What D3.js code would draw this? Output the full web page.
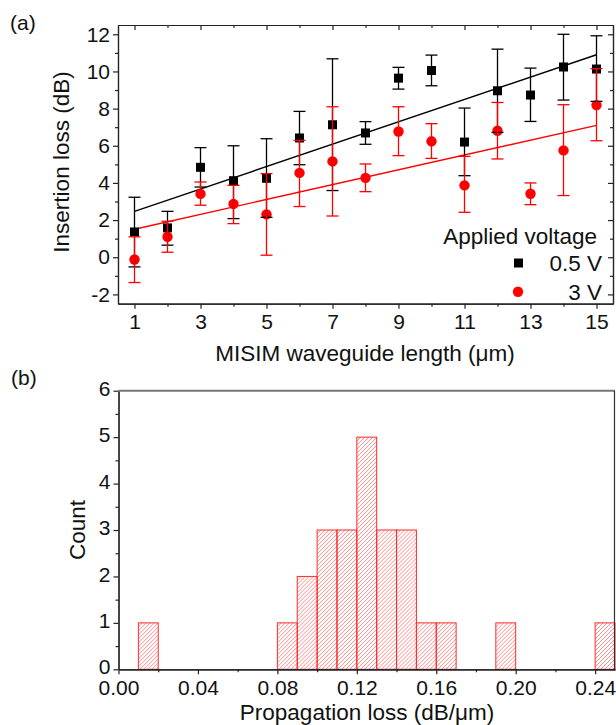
<!DOCTYPE html>
<html lang="en">
<head>
  <meta charset="UTF-8" />
  <title>Insertion and propagation loss</title>
  <script src="https://d3js.org/d3.v7.min.js"></script>
  <style>
    body { margin: 0; background: white; }
    svg { display: block; font-family: "Liberation Sans", Arial, sans-serif; }
    .axis text { font-size: 21px; fill: #111; font-family: "Liberation Sans", Arial, sans-serif; }
    .axis path, .axis line { stroke: #222; stroke-width: 1.2; }
    .title { font-size: 22.5px; fill: #111; }
  </style>
</head>
<body>
  <svg id="fig" width="616" height="725"></svg>
  <script>
    // (a) insertion loss vs waveguide length
    const lengths = [1, 2, 3, 4, 5, 6, 7, 8, 9, 10, 11, 12, 13, 14, 15];
    const loss05 = [1.36, 1.58, 4.84, 4.12, 4.25, 6.42, 7.13, 6.69, 9.64, 10.05, 6.2, 8.96, 8.73, 10.24, 10.13];
    const hi05 = [3.23, 2.47, 5.9, 6.0, 6.38, 7.85, 10.68, 7.3, 10.22, 10.88, 8.03, 11.2, 10.18, 12.0, 11.92];
    const lo05 = [-0.52, 0.65, 3.78, 2.08, 2.15, 4.98, 3.59, 6.08, 9.05, 9.23, 4.39, 6.72, 7.31, 8.46, 8.39];
    const loss3 = [-0.12, 1.1, 3.41, 2.87, 2.31, 4.54, 5.16, 4.27, 6.77, 6.24, 3.87, 6.81, 3.42, 5.75, 8.19];
    const hi3 = [1.1, 1.94, 4.05, 3.87, 4.5, 6.29, 8.1, 5.02, 8.1, 7.19, 5.43, 8.33, 4.0, 8.21, 10.15];
    const lo3 = [-1.36, 0.27, 2.8, 1.81, 0.11, 2.73, 2.22, 3.53, 5.47, 5.32, 2.42, 5.29, 2.83, 3.32, 6.27];
    const fitX = [1, 15];
    const fit05 = [2.47, 10.9];
    const fit3 = [1.51, 7.1];
    const yTicksA = [-2, 0, 2, 4, 6, 8, 10, 12];
    const xTicksA = [1, 3, 5, 7, 9, 11, 13, 15];

    // (b) histogram of propagation loss, bin width 0.01
    const binStart = [0.01, 0.08, 0.09, 0.10, 0.11, 0.12, 0.13, 0.14, 0.15, 0.16, 0.19, 0.24];
    const counts = [1, 1, 2, 3, 3, 5, 3, 3, 1, 1, 1, 1];
    const binWidth = 0.01;
    const xTicksB = [0, 0.04, 0.08, 0.12, 0.16, 0.20, 0.24];
    const yTicksB = [0, 1, 2, 3, 4, 5, 6];

    const svg = d3.select("#fig");
    const defs = svg.append("defs");

    const hyphen = d => String(d).replace("\u2212", "-");

    // ---------- panel (a) ----------
    const xA = d3.scaleLinear().domain([0.5, 15.5]).range([118, 613]);
    const yA = d3.scaleLinear().domain([-2.5, 12.5]).range([303.7, 25]);
    const gA = svg.append("g");

    const minorY = d3.range(-2, 13, 1).filter(v => v % 2 !== 0);
    const minorX = d3.range(2, 15, 2);

    // left axis
    gA.append("g").attr("class", "axis")
      .attr("transform", "translate(118,0)")
      .call(d3.axisLeft(yA).tickValues(yTicksA).tickSize(5).tickPadding(3).tickSizeOuter(0)
        .tickFormat(d => hyphen(d)));
    gA.append("g").attr("class", "axis")
      .attr("transform", "translate(118,0)")
      .call(d3.axisLeft(yA).tickValues(minorY).tickSize(3).tickFormat("").tickSizeOuter(0));
    // right axis, ticks inward
    gA.append("g").attr("class", "axis")
      .attr("transform", "translate(613,0)")
      .call(d3.axisRight(yA).tickValues(yTicksA).tickSize(-5).tickFormat("").tickSizeOuter(0));
    gA.append("g").attr("class", "axis")
      .attr("transform", "translate(613,0)")
      .call(d3.axisRight(yA).tickValues(minorY).tickSize(-3).tickFormat("").tickSizeOuter(0));
    // bottom axis
    gA.append("g").attr("class", "axis")
      .attr("transform", "translate(0,303.7)")
      .call(d3.axisBottom(xA).tickValues(xTicksA).tickSize(5).tickPadding(5).tickSizeOuter(0));
    gA.append("g").attr("class", "axis")
      .attr("transform", "translate(0,303.7)")
      .call(d3.axisBottom(xA).tickValues(minorX).tickSize(3).tickFormat("").tickSizeOuter(0));
    // top axis, ticks inward
    gA.append("g").attr("class", "axis")
      .attr("transform", "translate(0,25)")
      .call(d3.axisTop(xA).tickValues(xTicksA).tickSize(-5).tickFormat("").tickSizeOuter(0));
    gA.append("g").attr("class", "axis")
      .attr("transform", "translate(0,25)")
      .call(d3.axisTop(xA).tickValues(minorX).tickSize(-3).tickFormat("").tickSizeOuter(0));

    // fit lines
    const line = d3.line().x(d => xA(d[0])).y(d => yA(d[1]));
    gA.append("path").datum(fitX.map((x, i) => [x, fit05[i]]))
      .attr("d", line).attr("fill", "none").attr("stroke", "#000").attr("stroke-width", 1.4);
    gA.append("path").datum(fitX.map((x, i) => [x, fit3[i]]))
      .attr("d", line).attr("fill", "none").attr("stroke", "#ff0000").attr("stroke-width", 1.4);

    const ptsA = lengths.map((x, i) => ({ x, v: loss05[i], hi: hi05[i], lo: lo05[i] }));
    const ptsB = lengths.map((x, i) => ({ x, v: loss3[i], hi: hi3[i], lo: lo3[i] }));

    // markers
    gA.selectAll(".sq").data(ptsA).enter().append("rect")
      .attr("x", d => xA(d.x) - 4.5).attr("y", d => yA(d.v) - 4.5)
      .attr("width", 9).attr("height", 9).attr("fill", "#000");
    gA.selectAll(".dot").data(ptsB).enter().append("circle")
      .attr("cx", d => xA(d.x)).attr("cy", d => yA(d.v))
      .attr("r", 5.2).attr("fill", "#ff0000");

    // error bars
    function errorBars(pts, color) {
      const g = gA.append("g").attr("stroke", color).attr("stroke-width", 1.3);
      pts.forEach(d => {
        const cx = xA(d.x);
        g.append("line").attr("x1", cx).attr("x2", cx).attr("y1", yA(d.lo)).attr("y2", yA(d.hi));
        g.append("line").attr("x1", cx - 6).attr("x2", cx + 6).attr("y1", yA(d.hi)).attr("y2", yA(d.hi));
        g.append("line").attr("x1", cx - 6).attr("x2", cx + 6).attr("y1", yA(d.lo)).attr("y2", yA(d.lo));
      });
    }
    errorBars(ptsA, "#000");
    errorBars(ptsB, "#ff0000");

    // legend
    gA.append("text").attr("class", "title").attr("x", 597).attr("y", 244)
      .attr("text-anchor", "end").text("Applied voltage");
    gA.append("rect").attr("x", 514).attr("y", 258.5).attr("width", 9).attr("height", 9).attr("fill", "#000");
    gA.append("text").attr("class", "title").attr("x", 602).attr("y", 271)
      .attr("text-anchor", "end").text("0.5 V");
    gA.append("circle").attr("cx", 518).attr("cy", 291.7).attr("r", 5.2).attr("fill", "#ff0000");
    gA.append("text").attr("class", "title").attr("x", 602).attr("y", 300)
      .attr("text-anchor", "end").text("3 V");

    // titles
    svg.append("text").attr("class", "title").attr("x", 365).attr("y", 361)
      .attr("text-anchor", "middle").text("MISIM waveguide length (\u03bcm)");
    svg.append("text").attr("class", "title")
      .attr("transform", "translate(69,162) rotate(-90)")
      .attr("text-anchor", "middle").text("Insertion loss (dB)");
    svg.append("text").attr("class", "title").attr("x", 10).attr("y", 30)
      .style("font-size", "21px").text("(a)");

    // ---------- panel (b) ----------
    const xB = d3.scaleLinear().domain([0, 0.25]).range([118.5, 615]);
    const yB = d3.scaleLinear().domain([0, 6]).range([669.3, 390.7]);
    const gB = svg.append("g");

    // hatched bars: light red diagonals clipped to each bar, then the outline
    binStart.forEach((d, i) => {
      const bx0 = xB(d), bx1 = xB(d + binWidth);
      const by0 = yB(counts[i]), by1 = yB(0);
      const h = by1 - by0;
      defs.append("clipPath").attr("id", "binclip" + i)
        .append("rect").attr("x", bx0).attr("y", by0).attr("width", bx1 - bx0).attr("height", h);
      const hg = gB.append("g").attr("clip-path", `url(#binclip${i})`);
      for (let k = bx0 - h; k < bx1; k += 4) {
        hg.append("line")
          .attr("x1", k).attr("y1", by1).attr("x2", k + h).attr("y2", by0)
          .attr("stroke", "#ff7f7f").attr("stroke-width", 0.9);
      }
    });
    gB.selectAll("rect.bin").data(binStart).enter().append("rect")
      .attr("class", "bin")
      .attr("x", d => xB(d))
      .attr("y", (d, i) => yB(counts[i]))
      .attr("width", d => xB(d + binWidth) - xB(d))
      .attr("height", (d, i) => yB(0) - yB(counts[i]))
      .attr("fill", "none")
      .attr("stroke", "#ff2a2a")
      .attr("stroke-width", 1);

    const minorYB = d3.range(0.5, 6, 1);
    const minorXB = [0.02, 0.06, 0.10, 0.14, 0.18, 0.22];

    gB.append("g").attr("class", "axis")
      .attr("transform", "translate(118.5,0)")
      .call(d3.axisLeft(yB).tickValues(yTicksB).tickSize(5).tickPadding(3).tickSizeOuter(0)
        .tickFormat(d3.format("d")))
      .selectAll("text").attr("dy", "0.22em");
    gB.append("g").attr("class", "axis")
      .attr("transform", "translate(118.5,0)")
      .call(d3.axisLeft(yB).tickValues(minorYB).tickSize(3).tickFormat("").tickSizeOuter(0));
    gB.append("g").attr("class", "axis")
      .attr("transform", "translate(0,669.3)")
      .call(d3.axisBottom(xB).tickValues(xTicksB).tickSize(5).tickPadding(6)
        .tickFormat(d3.format(".2f")).tickSizeOuter(0));
    gB.append("g").attr("class", "axis")
      .attr("transform", "translate(0,669.3)")
      .call(d3.axisBottom(xB).tickValues(minorXB).tickSize(3).tickFormat("").tickSizeOuter(0));

    // frame top (gray) and right
    gB.append("line").attr("x1", xB(0)).attr("x2", xB(0.25)).attr("y1", yB(6)).attr("y2", yB(6))
      .attr("stroke", "#777").attr("stroke-width", 2);
    gB.append("line").attr("x1", xB(0.25) - 0.5).attr("x2", xB(0.25) - 0.5).attr("y1", yB(6)).attr("y2", yB(0))
      .attr("stroke", "#333").attr("stroke-width", 1.2);

    svg.append("text").attr("class", "title").attr("x", 367).attr("y", 720)
      .attr("text-anchor", "middle").text("Propagation loss (dB/\u03bcm)");
    svg.append("text").attr("class", "title")
      .attr("transform", "translate(85,530) rotate(-90)")
      .attr("text-anchor", "middle").text("Count");
    svg.append("text").attr("class", "title").attr("x", 11).attr("y", 385)
      .style("font-size", "21px").text("(b)");
  </script>
</body>
</html>
